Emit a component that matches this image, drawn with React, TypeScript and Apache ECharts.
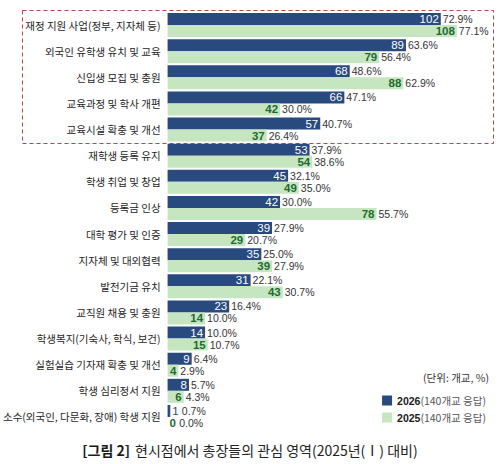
import React, { useEffect, useRef } from "react";
import * as echarts from "echarts";

const categories = [
  "재정 지원 사업(정부, 지자체 등)",
  "외국인 유학생 유치 및 교육",
  "신입생 모집 및 충원",
  "교육과정 및 학사 개편",
  "교육시설 확충 및 개선",
  "재학생 등록 유지",
  "학생 취업 및 창업",
  "등록금 인상",
  "대학 평가 및 인증",
  "지자체 및 대외협력",
  "발전기금 유치",
  "교직원 채용 및 충원",
  "학생복지(기숙사, 학식, 보건)",
  "실험실습 기자재 확충 및 개선",
  "학생 심리정서 지원",
  "소수(외국인, 다문화, 장애) 학생 지원",
];

const values2026 = [102, 89, 68, 66, 57, 53, 45, 42, 39, 35, 31, 23, 14, 9, 8, 1];
const pct2026 = ["72.9", "63.6", "48.6", "47.1", "40.7", "37.9", "32.1", "30.0", "27.9", "25.0", "22.1", "16.4", "10.0", "6.4", "5.7", "0.7"];
const values2025 = [108, 79, 88, 42, 37, 54, 49, 78, 29, 39, 43, 14, 15, 4, 6, 0];
const pct2025 = ["77.1", "56.4", "62.9", "30.0", "26.4", "38.6", "35.0", "55.7", "20.7", "27.9", "30.7", "10.0", "10.7", "2.9", "4.3", "0.0"];

const seriesNames = ["2026", "2025"];
const legendNote = "(140개교 응답)";
const unitText = "(단위: 개교, %)";
const titleBold = "[그림 2]";
const titleText = "현시점에서 총장들의 관심 영역(2025년(Ⅰ) 대비)";

const NAVY = "#284a7e";
const GREEN = "#c6e6c2";
const GREEN_TEXT = "#1d6a2e";
const PCT_COLOR = "#333";
const NUM_FONT = "'Liberation Sans', Arial, sans-serif";
const KR_FONT = "'Noto Sans CJK KR', 'Noto Sans', sans-serif";

function valueItems(vals: number[], pcts: string[], outsideColor: string, bold: boolean) {
  return vals.map((v, i) =>
    v < 3
      ? {
          value: v,
          label: {
            position: "right",
            distance: 2,
            formatter: `{v|${v}} {p|${pcts[i]}%}`,
            rich: {
              v: { color: outsideColor, fontFamily: NUM_FONT, fontSize: 11.5, fontWeight: bold ? "bold" : "normal" },
              p: { color: PCT_COLOR, fontFamily: NUM_FONT, fontSize: 10.5, fontWeight: "normal" },
            },
          },
        }
      : { value: v }
  );
}

function pctItems(vals: number[]) {
  return vals.map((v) => (v < 3 ? { value: 0, label: { show: false } } : { value: 0 }));
}

export default function App() {
  const ref = useRef<HTMLDivElement>(null);

  useEffect(() => {
    if (!ref.current) return;
    const chart = echarts.init(ref.current, null, { renderer: "svg" });
    const pctLabel = (arr: string[]) => ({
      show: true,
      position: "right",
      distance: 2,
      color: PCT_COLOR,
      fontFamily: NUM_FONT,
      fontSize: 10.5,
      formatter: (p: any) => arr[p.dataIndex] + "%",
    });
    chart.setOption({
      animation: false,
      backgroundColor: "#ffffff",
      title: {
        text: `{b|${titleBold}} {n|${titleText}}`,
        left: "center",
        top: 436,
        textStyle: {
          fontWeight: "normal",
          rich: {
            b: { fontFamily: KR_FONT, fontSize: 14, fontWeight: "bold", color: "#1a1a1a" },
            n: { fontFamily: KR_FONT, fontSize: 14, fontWeight: "normal", color: "#222" },
          },
        },
      },
      legend: {
        data: seriesNames,
        orient: "vertical",
        right: 9,
        top: 390,
        itemWidth: 10,
        itemHeight: 10,
        itemGap: 6,
        icon: "rect",
        selectedMode: false,
        formatter: (name: string) => `{b|${name}}{n|${legendNote}}`,
        textStyle: {
          rich: {
            b: { fontFamily: NUM_FONT, fontSize: 10.5, fontWeight: "bold", color: "#1a1a1a" },
            n: { fontFamily: KR_FONT, fontSize: 10.5, color: "#555" },
          },
        },
      },
      grid: { left: 165, top: 12, width: 324, height: 418, containLabel: false },
      xAxis: { type: "value", min: 0, max: 120, show: false },
      yAxis: {
        type: "category",
        data: categories,
        inverse: true,
        axisLine: { show: false },
        axisTick: { show: false },
        axisLabel: {
          margin: 7,
          color: "#1e1e1e",
          fontFamily: KR_FONT,
          fontSize: 10.5,
        },
      },
      graphic: [
        {
          type: "rect",
          shape: { x: 22.5, y: 10.5, width: 471, height: 133 },
          style: { fill: "none", stroke: "#b2474c", lineWidth: 1, lineDash: [4, 3] },
          silent: true,
        },
        {
          type: "text",
          right: 11,
          top: 372,
          style: { text: unitText, fontFamily: KR_FONT, fontSize: 10.5, fill: "#333" },
        },
      ],
      series: [
        {
          name: seriesNames[0],
          type: "bar",
          stack: "a",
          barWidth: 12,
          barGap: "0%",
          itemStyle: { color: NAVY },
          label: {
            show: true,
            position: "insideRight",
            distance: 2,
            color: "#ffffff",
            fontFamily: NUM_FONT,
            fontSize: 11.5,
          },
          data: valueItems(values2026, pct2026, NAVY, false),
        },
        {
          name: "p2026",
          type: "bar",
          stack: "a",
          barWidth: 12,
          itemStyle: { color: "transparent" },
          label: pctLabel(pct2026),
          data: pctItems(values2026),
        },
        {
          name: seriesNames[1],
          type: "bar",
          stack: "b",
          barWidth: 12,
          barGap: "0%",
          itemStyle: { color: GREEN },
          label: {
            show: true,
            position: "insideRight",
            distance: 2,
            color: GREEN_TEXT,
            fontWeight: "bold",
            fontFamily: NUM_FONT,
            fontSize: 11.5,
          },
          data: valueItems(values2025, pct2025, GREEN_TEXT, true),
        },
        {
          name: "p2025",
          type: "bar",
          stack: "b",
          barWidth: 12,
          itemStyle: { color: "transparent" },
          label: pctLabel(pct2025),
          data: pctItems(values2025),
        },
      ],
    });
    return () => chart.dispose();
  }, []);

  return (
    <div
      ref={ref}
      style={{ position: "absolute", left: 0, top: 0, width: 500, height: 464 }}
    />
  );
}
